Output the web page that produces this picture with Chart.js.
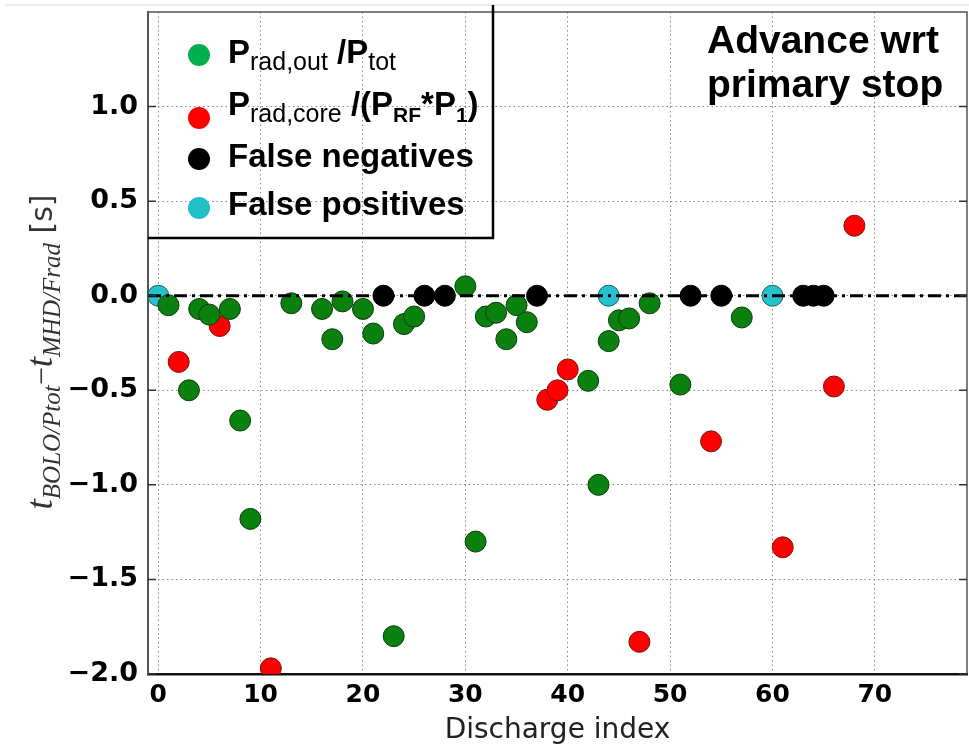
<!DOCTYPE html>
<html>
<head>
<meta charset="utf-8">
<script src="https://cdn.jsdelivr.net/npm/chart.js@4.4.1/dist/chart.umd.min.js"></script>
<style>
    html, body { margin: 0; padding: 0; background: #fff; }
    #wrap { width: 969px; height: 748px; position: relative; }
</style>
</head>
<body>
<div id="wrap"><canvas id="chart" width="969" height="748"></canvas></div>
<script>
// discharge index (x) vs time advance in seconds (y)
var greenX = [1, 3, 4, 5, 7, 8, 9, 13, 16, 17, 18, 20, 21, 23, 24, 25, 30, 31, 32, 33, 34, 35, 36, 42, 43, 44, 45, 46, 48, 51, 57];
var greenY = [-0.05, -0.5, -0.07, -0.1, -0.07, -0.66, -1.18, -0.04, -0.07, -0.23, -0.03, -0.07, -0.2, -1.8, -0.15, -0.11, 0.05, -1.3, -0.11, -0.09, -0.23, -0.05, -0.14, -0.45, -1.0, -0.24, -0.13, -0.12, -0.04, -0.47, -0.115];
var redX = [2, 6, 11, 38, 39, 40, 47, 54, 61, 66, 68];
var redY = [-0.35, -0.16, -1.97, -0.55, -0.5, -0.39, -1.83, -0.77, -1.33, -0.48, 0.37];
var blackX = [22, 26, 28, 37, 52, 55, 63, 64, 65];
var blackY = [0, 0, 0, 0, 0, 0, 0, 0, 0];
var cyanX = [0, 44, 60];
var cyanY = [0, 0, 0];
var zeroLineX = [-1, 79];
var zeroLineY = [0, 0];

var xTicks = [0, 10, 20, 30, 40, 50, 60, 70];
var yTicks = [-2.0, -1.5, -1.0, -0.5, 0.0, 0.5, 1.0];
var yTickLabels = ['\u22122.0', '\u22121.5', '\u22121.0', '\u22120.5', '0.0', '0.5', '1.0'];

function pts(xs, ys) {
    return xs.map(function(x, i) { return { x: x, y: ys[i] }; });
}

// text runs with subscripts, left to right
function drawRuns(ctx, x, y, runs) {
    runs.forEach(function(r) {
        ctx.font = r.f;
        ctx.fillText(r.t, x, y + (r.dy || 0));
        x += ctx.measureText(r.t).width;
    });
}

var B = 'bold 33px "Liberation Sans"';
var S = '25px "Liberation Sans"';
var SB = 'bold 21px "Liberation Sans"';

var legendItems = [
    { color: '#00b050', y: 55, base: 63, runs: [{ t: 'P', f: B }, { t: 'rad,out', f: S, dy: 7 }, { t: ' /P', f: B }, { t: 'tot', f: S, dy: 7 }] },
    { color: '#ff0000', y: 118, base: 115, runs: [{ t: 'P', f: B }, { t: 'rad,core', f: S, dy: 7 }, { t: ' /(P', f: B }, { t: 'RF', f: SB, dy: 7 }, { t: '*P', f: B }, { t: '1', f: SB, dy: 7 }, { t: ')', f: B }] },
    { color: '#000000', y: 159, base: 167, runs: [{ t: 'False negatives', f: B }] },
    { color: '#1fbfc8', y: 208, base: 215, runs: [{ t: 'False positives', f: B }] }
];

var extras = {
    id: 'extras',
    afterDraw: function(chart) {
        var ctx = chart.ctx;
        var a = chart.chartArea;
        var ys = chart.scales.y;
        ctx.save();

        // faint line at the very top of the picture
        ctx.strokeStyle = '#e4e4e4';
        ctx.lineWidth = 1.5;
        ctx.beginPath(); ctx.moveTo(5, 5); ctx.lineTo(969, 5); ctx.stroke();

        // top and right frame
        ctx.strokeStyle = '#555';
        ctx.lineWidth = 1.5;
        ctx.beginPath();
        ctx.moveTo(a.left, a.top); ctx.lineTo(a.right, a.top); ctx.lineTo(a.right, a.bottom);
        ctx.stroke();

        // inward y ticks on both sides
        ctx.strokeStyle = '#333';
        ctx.lineWidth = 1.5;
        yTicks.forEach(function(v) {
            var py = ys.getPixelForValue(v);
            ctx.beginPath();
            ctx.moveTo(a.left, py); ctx.lineTo(a.left + 8, py);
            ctx.moveTo(a.right, py); ctx.lineTo(a.right - 8, py);
            ctx.stroke();
        });

        // legend box (right and bottom edges)
        ctx.strokeStyle = '#000';
        ctx.lineWidth = 2.5;
        ctx.beginPath();
        ctx.moveTo(493, 5); ctx.lineTo(493, 238); ctx.lineTo(a.left, 238);
        ctx.stroke();

        ctx.textAlign = 'left';
        ctx.textBaseline = 'alphabetic';
        legendItems.forEach(function(it) {
            ctx.fillStyle = it.color;
            ctx.beginPath(); ctx.arc(199, it.y, 11, 0, Math.PI * 2); ctx.fill();
            ctx.fillStyle = '#000';
            drawRuns(ctx, 228, it.base, it.runs);
        });

        // annotation
        ctx.font = 'bold 39px "Liberation Sans"';
        ctx.fillStyle = '#000';
        ctx.fillText('Advance wrt', 707, 53);
        ctx.fillText('primary stop', 707, 97);

        // y axis title
        var parts = [
            { t: 't', f: 'italic 37px "Liberation Serif"', dy: 0 },
            { t: 'BOLO/Ptot', f: 'italic 25px "Liberation Serif"', dy: 8 },
            { t: '\u2212', f: '32px "Liberation Serif"', dy: 0 },
            { t: 't', f: 'italic 37px "Liberation Serif"', dy: 0 },
            { t: 'MHD/Frad', f: 'italic 25px "Liberation Serif"', dy: 8 },
            { t: ' [s]', f: '30px "DejaVu Sans"', dy: 0 }
        ];
        var total = 0;
        parts.forEach(function(p) { ctx.font = p.f; total += ctx.measureText(p.t).width; });
        ctx.translate(52, 352);
        ctx.rotate(-Math.PI / 2);
        ctx.fillStyle = '#333';
        drawRuns(ctx, -total / 2, 0, parts);
        ctx.restore();
    }
};

var tickFont = { family: 'DejaVu Sans', weight: 'bold', size: 27 };

new Chart(document.getElementById('chart'), {
    type: 'scatter',
    data: {
        datasets: [{
            type: 'line',
            data: pts(zeroLineX, zeroLineY),
            borderColor: '#000',
            borderWidth: 3,
            borderDash: [13, 5, 3, 5],
            pointRadius: 0,
            fill: false,
            order: -1
        }, {
            data: pts(greenX, greenY),
            backgroundColor: '#0a800f',
            borderColor: '#0b3a0b',
            borderWidth: 1,
            pointRadius: 10.5,
            clip: 0,
            order: 0
        }, {
            data: pts(blackX, blackY),
            backgroundColor: '#000',
            borderColor: '#000',
            borderWidth: 1,
            pointRadius: 10.5,
            clip: 0,
            order: 1
        }, {
            data: pts(redX, redY),
            backgroundColor: '#ff0000',
            borderColor: '#7a1010',
            borderWidth: 1,
            pointRadius: 10.5,
            clip: 0,
            order: 2
        }, {
            data: pts(cyanX, cyanY),
            backgroundColor: '#26c1cd',
            borderColor: '#1d5f66',
            borderWidth: 1,
            pointRadius: 10.5,
            clip: 0,
            order: 3
        }]
    },
    options: {
        responsive: false,
        animation: false,
        devicePixelRatio: 1,
        layout: { autoPadding: false, padding: { left: 0, right: 2, top: 12, bottom: 0 } },
        plugins: {
            legend: { display: false },
            tooltip: { enabled: false }
        },
        scales: {
            x: {
                type: 'linear',
                min: -1,
                max: 79,
                afterBuildTicks: function(s) { s.ticks = xTicks.map(function(v) { return { value: v }; }); },
                afterFit: function(s) { s.height = 74; s.paddingLeft = 0; s.paddingRight = 0; },
                grid: { color: '#888', lineWidth: 1, drawTicks: false },
                border: { display: true, color: '#111', width: 2.5, dash: [1.5, 3] },
                ticks: { color: '#000', font: { family: 'DejaVu Sans', weight: 'bold', size: 25 }, padding: 6, maxRotation: 0, autoSkip: false },
                title: { display: true, text: 'Discharge index', color: '#222', font: { family: 'DejaVu Sans', size: 28 }, padding: { top: 0, bottom: 0 } }
            },
            y: {
                min: -2,
                max: 1.5,
                afterBuildTicks: function(s) { s.ticks = yTicks.map(function(v) { return { value: v }; }); },
                afterFit: function(s) { s.width = 148; s.paddingTop = 0; s.paddingBottom = 0; },
                grid: { color: '#888', lineWidth: 1, drawTicks: false },
                border: { display: true, color: '#555', width: 2, dash: [1.5, 3] },
                ticks: {
                    color: '#000',
                    font: tickFont,
                    padding: 10,
                    callback: function(v) {
                        var i = yTicks.indexOf(v);
                        return i < 0 ? '' : yTickLabels[i];
                    }
                }
            }
        }
    },
    plugins: [extras]
});
</script>
</body>
</html>
